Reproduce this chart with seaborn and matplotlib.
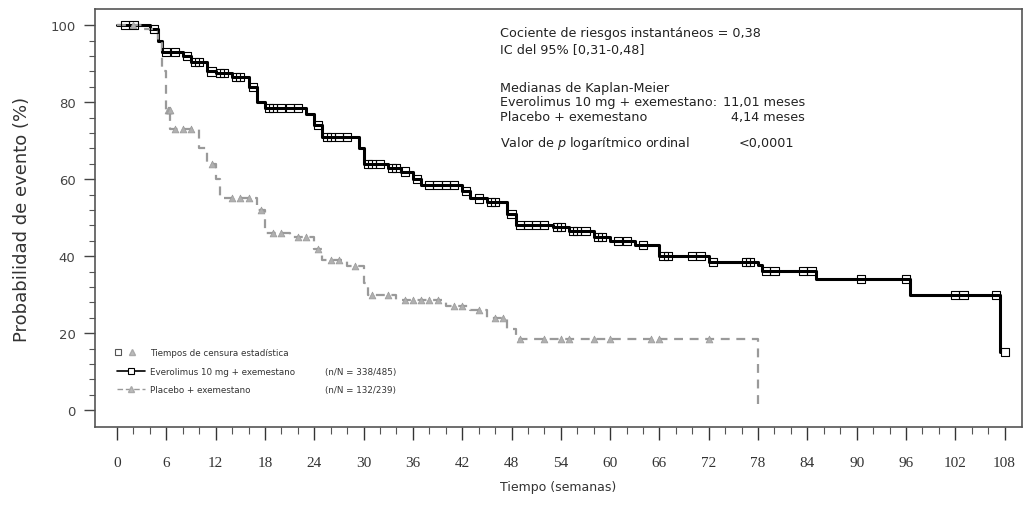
import numpy as np
import pandas as pd
import matplotlib
matplotlib.use("Agg")
import matplotlib.pyplot as plt
import seaborn as sns

# Kaplan-Meier steps (weeks, %)
evero_t = [0, 4, 5, 5.5, 8, 9, 11, 12, 14, 16, 17, 18, 23, 24, 25, 29.5, 30, 33, 34.5,
           36, 37, 42, 43, 45, 47.5, 48.5, 53, 55, 58, 60, 63, 66, 72, 78, 78.5, 85,
           96.5, 107.5]
evero_s = [100, 99, 96, 93, 92, 90.5, 88, 87.5, 86.5, 84, 80, 78.5, 77, 74, 71, 68, 64,
           63, 62, 60, 58.5, 57, 55, 54, 51, 48, 47.5, 46.5, 45, 44, 43, 40, 38.5, 37.8,
           36.2, 34, 30, 15]
evero_cens = [1, 2, 4.5, 6, 7, 8.5, 9.5, 10, 11.5, 12.5, 13, 14.5, 15, 16.5, 18.5, 19,
              20, 21, 22, 24.5, 25.5, 26, 27, 28, 30.5, 31, 32, 33.5, 34, 35, 36.5, 38,
              39, 40, 41, 42.5, 44, 45.5, 46, 48, 49, 50, 51, 52, 53.5, 54, 55.5, 56,
              57, 58.5, 59, 61, 62, 64, 66.5, 67, 70, 71, 72.5, 76.5, 77, 79, 80,
              83.5, 84.5, 90.5, 96, 102, 103, 107, 108]

placebo_t = [0, 3, 5, 5.5, 6, 6.5, 10, 11, 12, 12.5, 17, 18, 21, 24, 25, 28, 30, 30.5,
             34, 40, 43, 45, 47.5, 48.5, 78]
placebo_s = [100, 99, 96, 88, 78, 73, 68, 64, 60, 55, 52, 46, 45, 42, 39, 37.5, 33, 30,
             28.5, 27, 26, 24, 21, 18.5, 0]
placebo_cens = [2, 6.2, 6.3, 6.4, 7, 8, 9, 11.5, 14, 15, 16, 17.5, 19, 20, 22, 23, 24.5,
                26, 27, 29, 31, 33, 35, 36, 37, 38, 39, 41, 42, 44, 46, 47, 49, 52, 54,
                55, 58, 60, 65, 66, 72]

x_ticks = list(range(0, 109, 6))
y_ticks = [0, 20, 40, 60, 80, 100]


def step_value(times, surv, t):
    idx = np.searchsorted(times, t, side="right") - 1
    return np.asarray(surv)[idx]


sns.set_theme(style="ticks")
plt.rcParams["font.family"] = ["DejaVu Sans"]

fig = plt.figure(figsize=(10.27, 5.06), dpi=100)
ax = fig.add_axes([0.0925, 0.154, 0.9025, 0.826])

evero = pd.DataFrame({"t": evero_t, "s": evero_s})
placebo = pd.DataFrame({"t": placebo_t, "s": placebo_s})

sns.lineplot(data=evero, x="t", y="s", ax=ax, color="black", linewidth=2.2,
             drawstyle="steps-post", estimator=None, sort=False)
sns.lineplot(data=placebo, x="t", y="s", ax=ax, color="#9a9a9a", linewidth=1.6,
             linestyle=(0, (4, 3)), drawstyle="steps-post", estimator=None, sort=False)

ec = pd.DataFrame({"t": evero_cens,
                   "s": step_value(evero_t, evero_s, np.array(evero_cens))})
pc = pd.DataFrame({"t": placebo_cens,
                   "s": step_value(placebo_t, placebo_s, np.array(placebo_cens))})
sns.scatterplot(data=pc, x="t", y="s", ax=ax, marker="^", color="#b0b0b0",
                edgecolor="#999999", s=24, linewidth=0.5, zorder=3)
sns.scatterplot(data=ec, x="t", y="s", ax=ax, marker="s", facecolor="none",
                edgecolor="black", s=34, linewidth=0.8, zorder=4)

ax.set_xlim(-2.68, 110.1)
ax.set_ylim(-4.4, 104.2)
ax.set_xticks(x_ticks)
ax.set_xticks(np.arange(0, 109, 2), minor=True)
ax.set_yticks(y_ticks)
ax.set_yticks(np.arange(0, 101, 4), minor=True)
ax.set_xticklabels([str(v) for v in x_ticks], family="Liberation Serif", fontsize=11)
ax.tick_params(axis="x", which="major", length=9, width=1.0, pad=12, colors="#333333")
ax.tick_params(axis="x", which="minor", length=5, width=0.8, color="#555555")
ax.tick_params(axis="y", which="major", length=8, width=1.0, labelsize=9.5, pad=6,
               colors="#444444")
ax.tick_params(axis="y", which="minor", length=4, width=0.8, color="#555555")

for sp in ax.spines.values():
    sp.set_visible(True)
    sp.set_color("#555555")
    sp.set_linewidth(1.2)

ax.set_xlabel("Tiempo (semanas)", fontsize=9, color="#333333", labelpad=8)
ax.set_ylabel("Probabilidad de evento (%)", fontsize=13, color="#333333", labelpad=14)

# annotation block
kw = dict(transform=ax.transAxes, fontsize=9.2, color="#222222", va="center")
ax.text(0.437, 0.945, "Cociente de riesgos instantáneos = 0,38", **kw)
ax.text(0.437, 0.904, "IC del 95% [0,31-0,48]", **kw)
ax.text(0.437, 0.813, "Medianas de Kaplan-Meier", **kw)
ax.text(0.437, 0.778, "Everolimus 10 mg + exemestano:", **kw)
ax.text(0.678, 0.778, "11,01 meses", **kw)
ax.text(0.686, 0.742, "4,14 meses", **kw)
ax.text(0.437, 0.742, "Placebo + exemestano", **kw)
ax.text(0.437, 0.682, "Valor de $\\it{p}$ logarítmico ordinal", **kw)
ax.text(0.694, 0.682, "<0,0001", **kw)

# legend drawn by hand
lk = dict(transform=ax.transAxes, fontsize=6.3, color="#333333", va="center")
ax.plot([0.025], [0.179], transform=ax.transAxes, marker="s", mfc="none",
        mec="#555555", ms=4, mew=0.8, clip_on=False)
ax.plot([0.040], [0.179], transform=ax.transAxes, marker="^", mfc="#bbbbbb",
        mec="#aaaaaa", ms=4, clip_on=False)
ax.text(0.059, 0.179, "Tiempos de censura estadística", **lk)
ax.plot([0.024, 0.054], [0.134, 0.134], transform=ax.transAxes, color="black", lw=1.2)
ax.plot([0.039], [0.134], transform=ax.transAxes, marker="s", mfc="white",
        mec="black", ms=4, mew=0.8)
ax.text(0.059, 0.134, "Everolimus 10 mg + exemestano", **lk)
ax.text(0.248, 0.134, "(n/N = 338/485)", **lk)
ax.plot([0.024, 0.054], [0.091, 0.091], transform=ax.transAxes, color="#999999",
        lw=1.0, linestyle=(0, (4, 2)))
ax.plot([0.039], [0.091], transform=ax.transAxes, marker="^", mfc="#bbbbbb",
        mec="#aaaaaa", ms=4)
ax.text(0.059, 0.091, "Placebo + exemestano", **lk)
ax.text(0.248, 0.091, "(n/N = 132/239)", **lk)

fig.savefig("out.png", dpi=100)
